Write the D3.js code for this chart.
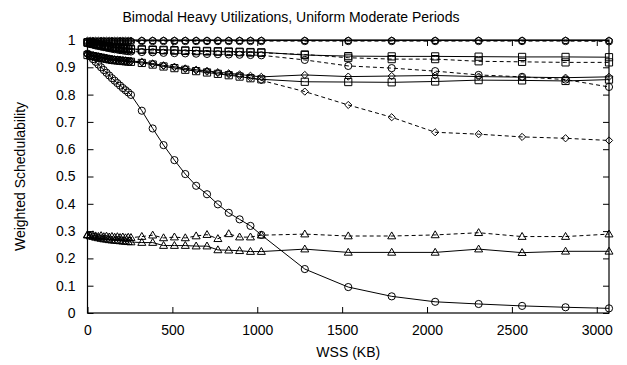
<!DOCTYPE html>
<html>
<head>
  <meta charset="utf-8">
  <title>Bimodal Heavy Utilizations, Uniform Moderate Periods</title>
  <style>
    body { margin: 0; background: #fff; }
    svg text { font-family: "Liberation Sans", Arial, sans-serif; fill: #000; }
    .axis text { font-size: 14px; }
  </style>
</head>
<body>
  <svg id="chart"></svg>

  <script src="https://d3js.org/d3.v7.min.js"></script>
  <script>
    // x positions (WSS in KB)
    const wss = [0, 16, 32, 48, 64, 80, 96, 112, 128, 144, 160, 176, 192, 208, 224, 240, 256,
      320, 384, 448, 512, 576, 640, 704, 768, 832, 896, 960, 1024,
      1280, 1536, 1792, 2048, 2304, 2560, 2816, 3072];

    const xTicks = [0, 500, 1000, 1500, 2000, 2500, 3000];
    const yTicks = [0, 0.1, 0.2, 0.3, 0.4, 0.5, 0.6, 0.7, 0.8, 0.9, 1];

    // the series
    const pentSolid = [0.997, 0.997, 0.997, 0.997, 0.997, 0.997, 0.997, 0.997, 0.997, 0.997, 0.997, 0.997, 0.997, 0.997, 0.997, 0.997, 0.997,
      0.998, 0.998, 0.998, 0.998, 0.998, 0.998, 0.998, 0.998, 0.998, 0.998, 0.998, 0.998,
      0.998, 0.998, 0.998, 0.998, 0.998, 0.998, 0.998, 0.998];
    const circDashTop = [0.993, 0.993, 0.993, 0.993, 0.993, 0.993, 0.993, 0.993, 0.993, 0.993, 0.993, 0.993, 0.993, 0.993, 0.993, 0.993, 0.993,
      0.996, 0.996, 0.996, 0.996, 0.996, 0.996, 0.996, 0.996, 0.996, 0.996, 0.996, 0.996,
      0.996, 0.996, 0.996, 0.996, 0.996, 0.996, 0.996, 0.995];
    const sqSolidHi = [0.992, 0.99, 0.988, 0.986, 0.984, 0.982, 0.98, 0.978, 0.977, 0.975, 0.974, 0.972, 0.971, 0.97, 0.969, 0.968, 0.967,
      0.966, 0.965, 0.964, 0.963, 0.962, 0.961, 0.96, 0.959, 0.958, 0.957, 0.956, 0.955,
      0.945, 0.941, 0.94, 0.94, 0.939, 0.938, 0.938, 0.937];
    const sqDash = [0.99, 0.988, 0.986, 0.984, 0.982, 0.98, 0.978, 0.976, 0.974, 0.973, 0.971, 0.97, 0.969, 0.968, 0.967, 0.966, 0.965,
      0.964, 0.963, 0.962, 0.961, 0.96, 0.959, 0.958, 0.957, 0.956, 0.955, 0.954, 0.953,
      0.947, 0.935, 0.93, 0.93, 0.922, 0.92, 0.918, 0.918];
    const circDash = [0.988, 0.985, 0.983, 0.98, 0.978, 0.976, 0.974, 0.972, 0.97, 0.968, 0.966, 0.965, 0.963, 0.962, 0.96, 0.959, 0.958,
      0.956, 0.955, 0.953, 0.952, 0.951, 0.95, 0.949, 0.948, 0.947, 0.946, 0.945, 0.944,
      0.927, 0.905, 0.897, 0.886, 0.872, 0.865, 0.855, 0.828];
    const diaSolid = [0.948, 0.946, 0.944, 0.942, 0.94, 0.938, 0.936, 0.934, 0.932, 0.93, 0.929, 0.928, 0.927, 0.926, 0.925, 0.924, 0.923,
      0.92, 0.914, 0.907, 0.902, 0.896, 0.891, 0.887, 0.882, 0.878, 0.874, 0.869, 0.865,
      0.872, 0.866, 0.868, 0.87, 0.866, 0.864, 0.862, 0.865];
    const sqSolidLo = [0.945, 0.943, 0.941, 0.939, 0.937, 0.935, 0.933, 0.931, 0.929, 0.927, 0.926, 0.925, 0.924, 0.923, 0.922, 0.921, 0.92,
      0.916, 0.91, 0.903, 0.897, 0.891, 0.886, 0.881, 0.876, 0.871, 0.866, 0.86, 0.856,
      0.847, 0.846, 0.845, 0.848, 0.853, 0.852, 0.85, 0.855];
    const diaDash = [0.946, 0.944, 0.942, 0.94, 0.938, 0.936, 0.934, 0.932, 0.93, 0.929, 0.928, 0.927, 0.926, 0.925, 0.924, 0.923, 0.922,
      0.918, 0.912, 0.905, 0.9, 0.894, 0.889, 0.884, 0.879, 0.874, 0.869, 0.862, 0.852,
      0.811, 0.762, 0.717, 0.662, 0.655, 0.645, 0.64, 0.632];
    const circSolid = [0.95, 0.94, 0.93, 0.92, 0.91, 0.9, 0.89, 0.88, 0.87, 0.86, 0.851, 0.842, 0.833, 0.824, 0.816, 0.808, 0.799,
      0.741, 0.676, 0.615, 0.56, 0.509, 0.466, 0.435, 0.398, 0.367, 0.343, 0.319, 0.286,
      0.161, 0.095, 0.061, 0.041, 0.033, 0.026, 0.021, 0.017];
    const triDash = [0.287, 0.284, 0.286, 0.282, 0.28, 0.283, 0.279, 0.281, 0.278, 0.28, 0.277, 0.279, 0.276, 0.278, 0.275, 0.277, 0.276,
      0.28, 0.285, 0.275, 0.278, 0.275, 0.282, 0.287, 0.272, 0.29, 0.278, 0.278, 0.285,
      0.289, 0.282, 0.282, 0.286, 0.294, 0.28, 0.28, 0.289];
    const triSolid = [0.285, 0.282, 0.28, 0.277, 0.275, 0.273, 0.271, 0.27, 0.268, 0.267, 0.266, 0.265, 0.264, 0.263, 0.262, 0.261, 0.26,
      0.258, 0.258, 0.247, 0.247, 0.247, 0.245, 0.245, 0.231, 0.23, 0.228, 0.225, 0.225,
      0.234, 0.222, 0.222, 0.222, 0.234, 0.221, 0.226, 0.226];

    const series = [
      { values: pentSolid, marker: "pentagon", dashed: false },
      { values: circDashTop, marker: "circle", dashed: true },
      { values: sqSolidHi, marker: "square", dashed: false },
      { values: sqDash, marker: "square", dashed: true },
      { values: circDash, marker: "circle", dashed: true },
      { values: diaSolid, marker: "diamond", dashed: false },
      { values: sqSolidLo, marker: "square", dashed: false },
      { values: diaDash, marker: "diamond", dashed: true },
      { values: circSolid, marker: "circle", dashed: false },
      { values: triDash, marker: "triangle", dashed: true },
      { values: triSolid, marker: "triangle", dashed: false }
    ];

    const W = 627, H = 365;
    const margin = { top: 40, right: 18, bottom: 52, left: 87.5 };

    const svg = d3.select("#chart").attr("width", W).attr("height", H);

    const x = d3.scaleLinear().domain([0, 3072]).range([margin.left, W - margin.right]);
    const y = d3.scaleLinear().domain([0, 1]).range([H - margin.bottom, margin.top]);

    // marker shapes, drawn round (0,0)
    function markerPath(kind) {
      const r = 3.6;
      if (kind === "circle") return d3.symbol(d3.symbolCircle, Math.PI * r * r)();
      if (kind === "square") return `M${-r},${-r}H${r}V${r}H${-r}Z`;
      if (kind === "diamond") return `M0,${-r}L${r},0L0,${r}L${-r},0Z`;
      if (kind === "triangle") return `M0,${-r - 0.5}L${r + 0.4},${r - 0.8}H${-r - 0.4}Z`;
      // pentagon
      const p = d3.range(5).map(i => {
        const a = -Math.PI / 2 + i * 2 * Math.PI / 5;
        return [r * Math.cos(a), r * Math.sin(a)];
      });
      return "M" + p.join("L") + "Z";
    }

    // axes, ticks inward on all sides
    const tl = 6;
    svg.append("g")
      .attr("class", "axis")
      .attr("transform", `translate(0,${y(0)})`)
      .call(d3.axisBottom(x).tickValues(xTicks).tickSizeInner(-tl).tickSizeOuter(0).tickPadding(12).tickFormat(d3.format("d")))
      .call(g => g.select(".domain").remove());
    svg.append("g")
      .attr("class", "axis")
      .attr("transform", `translate(0,${y(1)})`)
      .call(d3.axisTop(x).tickValues(xTicks).tickSizeInner(-tl).tickSizeOuter(0).tickFormat(""))
      .call(g => g.select(".domain").remove());
    svg.append("g")
      .attr("class", "axis")
      .attr("transform", `translate(${x(0)},0)`)
      .call(d3.axisLeft(y).tickValues(yTicks).tickSizeInner(-tl).tickSizeOuter(0).tickPadding(12).tickFormat(d3.format("")))
      .call(g => g.select(".domain").remove());
    svg.append("g")
      .attr("class", "axis")
      .attr("transform", `translate(${x(3072)},0)`)
      .call(d3.axisRight(y).tickValues(yTicks).tickSizeInner(-tl).tickSizeOuter(0).tickFormat(""))
      .call(g => g.select(".domain").remove());

    svg.append("rect")
      .attr("x", x(0)).attr("y", y(1))
      .attr("width", x(3072) - x(0)).attr("height", y(0) - y(1))
      .attr("fill", "none").attr("stroke", "#000").attr("stroke-width", 1.2);

    // lines and markers
    const line = d3.line().x((d, i) => x(wss[i])).y(d => y(d));
    series.forEach(s => {
      svg.append("path")
        .datum(s.values)
        .attr("d", line)
        .attr("fill", "none")
        .attr("stroke", "#000")
        .attr("stroke-width", 1)
        .attr("stroke-dasharray", s.dashed ? "4,3" : null);
      svg.append("g").selectAll("path")
        .data(s.values)
        .join("path")
        .attr("d", markerPath(s.marker))
        .attr("transform", (d, i) => `translate(${x(wss[i])},${y(d)})`)
        .attr("fill", "none")
        .attr("stroke", "#000")
        .attr("stroke-width", 1);
    });

    // titles
    svg.append("text")
      .attr("x", 291).attr("y", 22)
      .attr("text-anchor", "middle")
      .style("font-size", "14px")
      .text("Bimodal Heavy Utilizations, Uniform Moderate Periods");
    svg.append("text")
      .attr("x", (x(0) + x(3072)) / 2).attr("y", 357)
      .attr("text-anchor", "middle")
      .style("font-size", "14px")
      .text("WSS (KB)");
    svg.append("text")
      .attr("transform", `translate(25,${(y(0) + y(1)) / 2}) rotate(-90)`)
      .attr("text-anchor", "middle")
      .style("font-size", "14px")
      .text("Weighted Schedulability");
  </script>
</body>
</html>
